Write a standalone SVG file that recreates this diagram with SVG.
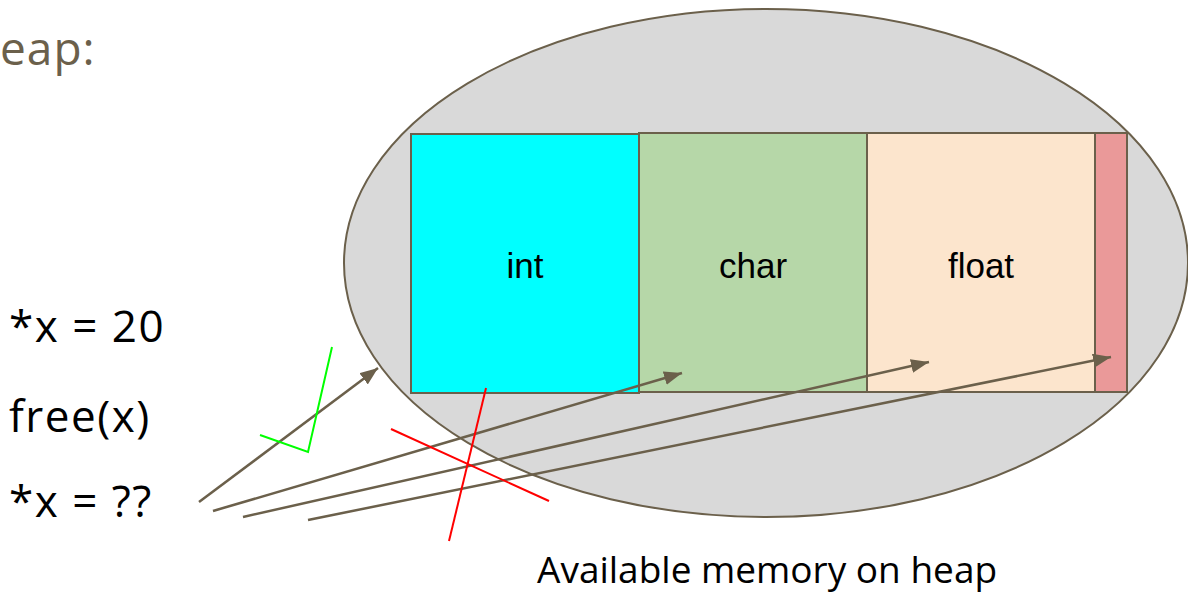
<svg xmlns="http://www.w3.org/2000/svg" width="1188" height="592" viewBox="0 0 1188 592">
<style>
.blk{stroke:#6b604b;stroke-width:2}
.lbl{font-family:"Liberation Sans",Arial,sans-serif;font-size:35px;fill:#000;text-anchor:middle}
.code{font-family:"Open Sans","Noto Sans",sans-serif;font-size:44px;letter-spacing:1.5px;fill:#000}
.conn{stroke:#6b604b;stroke-width:2.5;fill:none;marker-end:url(#ah)}
</style>
<defs>
<marker id="ah" markerUnits="userSpaceOnUse" markerWidth="20" markerHeight="16" refX="18" refY="7" orient="auto">
<path d="M0,0 L18,7 L0,14 Z" fill="#6b604b"/>
</marker>
</defs>
<rect width="1188" height="592" fill="#fff"/>
<text x="0" y="65" font-family="'Open Sans','Noto Sans',sans-serif" font-size="46" letter-spacing="1" fill="#6b604b">eap:</text>
<g id="heap">
<ellipse cx="766" cy="263" rx="422" ry="254" fill="#d9d9d9" stroke="#6b604b" stroke-width="2"/>
</g>
<g id="int"><rect class="blk" x="411" y="134" width="228" height="259" fill="#00ffff"/><text class="lbl" x="525" y="278">int</text></g>
<g id="char"><rect class="blk" x="639" y="133" width="228" height="259" fill="#b6d7a8"/><text class="lbl" x="753" y="278">char</text></g>
<g id="float"><rect class="blk" x="867" y="133" width="228" height="259" fill="#fce5cd"/><text class="lbl" x="981" y="278">float</text></g>
<g id="rest"><rect class="blk" x="1095" y="133" width="32" height="259" fill="#ea9999"/></g>
<g id="code">
<text class="code" x="9" y="342">*x = 20</text>
<text class="code" x="9" y="432">free(x)</text>
<text class="code" x="9" y="517">*x = ??</text>
</g>
<g id="connectors">
<line class="conn" x1="199" y1="502" x2="378" y2="368"/>
<line class="conn" x1="213" y1="511" x2="682" y2="373"/>
<line class="conn" x1="243" y1="517" x2="929" y2="362"/>
<line class="conn" x1="308" y1="520" x2="1111" y2="357"/>
</g>
<g id="check"><polyline points="260,435 308,452 332,347" fill="none" stroke="#00ff00" stroke-width="2"/></g>
<g id="cross" stroke="#ff0000" stroke-width="2">
<line x1="486" y1="388" x2="449" y2="541"/>
<line x1="391" y1="429" x2="549" y2="501"/>
</g>
<text x="537" y="583" font-family="'Open Sans','Noto Sans',sans-serif" font-size="37" fill="#000">Available memory on heap</text>
</svg>
